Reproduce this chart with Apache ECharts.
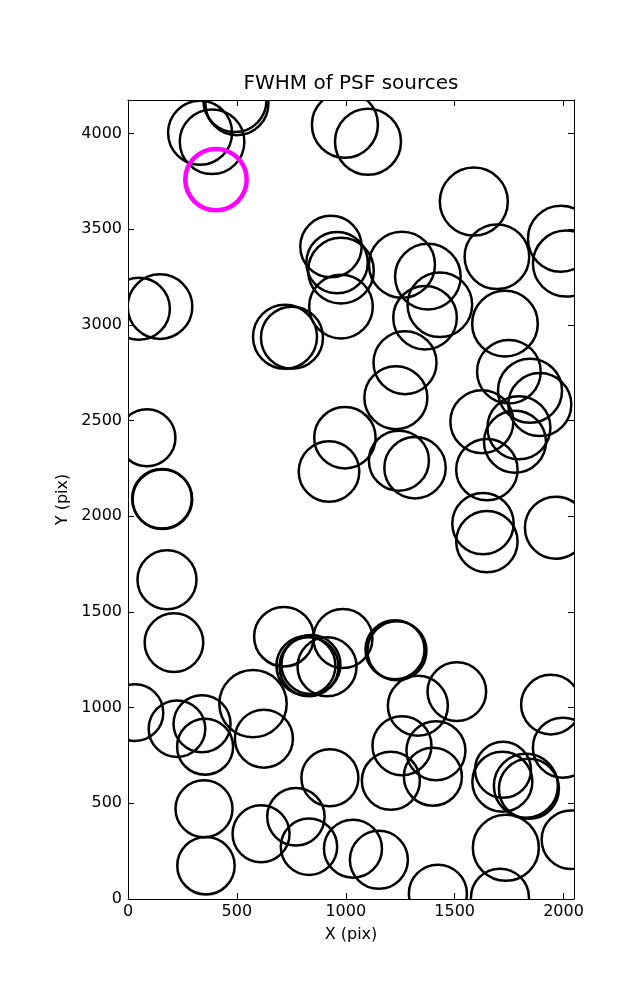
<!DOCTYPE html>
<html>
<head>
<meta charset="utf-8">
<script src="https://cdn.jsdelivr.net/npm/echarts@6/dist/echarts.min.js"></script>
<style>
html,body{margin:0;padding:0;background:#fff;}
#chart{width:637px;height:1000px;}
</style>
</head>
<body>
<div id="chart"></div>
<script>
// Source positions (pix) and FWHM (pix)
var srcX = [331,386,491,500,996,1102,1588,1988,2011,1694,932,960,978,978,1258,1377,1432,1364,1731,50,147,721,753,87,156,158,179,211,1272,1230,996,923,1244,1318,1625,1749,1846,1891,1795,1777,1648,1630,1648,1965,716,987,817,831,840,914,1226,1235,1331,1510,1942,1997,32,225,340,354,574,624,1258,1414,1722,1719,1827,1841,927,1207,1400,349,358,611,771,831,1033,1152,1423,1735,1708,2034];
var srcY = [4005,3958,4173,4157,4047,3958,3645,3451,3321,3357,3410,3326,3284,3096,3315,3253,3106,3038,3007,3085,3096,2939,2934,2411,2092,2089,1669,1340,2803,2620,2411,2234,2291,2254,2495,2756,2657,2584,2463,2390,2244,1962,1868,1941,1371,1361,1219,1214,1225,1214,1303,1298,1010,1084,1016,791,974,890,916,796,1021,838,801,775,675,613,592,576,634,618,639,472,174,341,430,273,263,205,28,268,7,310];
var srcFwhm = [3.20,3.23,3.15,3.15,3.30,3.30,3.40,3.30,3.30,3.23,3.07,3.07,3.28,3.18,3.30,3.28,3.23,3.18,3.28,3.10,3.23,3.20,3.10,2.85,2.98,2.98,2.95,2.93,3.15,3.15,3.07,3.03,3.00,3.07,3.15,3.18,3.20,3.15,3.15,3.10,3.07,3.07,3.07,3.10,2.98,2.95,2.95,2.95,2.95,2.95,2.95,2.95,3.00,2.93,2.98,3.00,2.83,2.83,2.85,2.80,3.37,2.90,2.95,2.95,2.80,3.00,3.20,3.00,2.85,2.90,2.90,2.85,2.87,2.85,2.87,2.82,2.90,2.90,2.90,3.30,2.90,2.93];
// Highlighted source
var hlX = [404];
var hlY = [3760];
var hlFwhm = [3.07];

var xTicks = [0,500,1000,1500,2000];
var yTicks = [0,500,1000,1500,2000,2500,3000,3500,4000];
var xMax = 2048, yMax = 4176;

function build(xs, ys, fs){
  var d=[]; for(var i=0;i<xs.length;i++) d.push([xs[i], ys[i], fs[i]]); return d;
}
var FONT = 'DejaVu Sans';
var chart = echarts.init(document.getElementById('chart'), null, {renderer:'canvas'});

function circleRenderer(color, lw){
  return function(params, api){
    var p = api.coord([api.value(0), api.value(1)]);
    return {type:'circle', shape:{cx:p[0], cy:p[1], r:api.value(2)*10},
      style:{fill:'none', stroke:color, lineWidth:lw}};
  };
}
function labelFmt(ticks){ return function(v){ return ticks.indexOf(v) >= 0 ? String(v) : ''; }; }

var axisCommon = {
  type:'value', z:5,
  axisLine:{show:true, onZero:false, lineStyle:{color:'#000', width:1}},
  axisTick:{show:true, inside:true, length:6, lineStyle:{color:'#000', width:1}},
  splitLine:{show:false}
};

chart.setOption({
  animation:false,
  backgroundColor:'#fff',
  title:{text:'FWHM of PSF sources', left:351, top:74, padding:0, textAlign:'center',
    textStyle:{fontFamily:FONT, fontSize:20, fontWeight:'normal', color:'#000'}},
  grid:{left:128, right:63, top:100, bottom:101, containLabel:false},
  xAxis:[
    Object.assign({}, axisCommon, {position:'bottom', min:0, max:xMax, interval:500,
      name:'X (pix)', nameLocation:'middle', nameGap:28,
      nameTextStyle:{fontFamily:FONT, fontSize:16, color:'#000'},
      axisLabel:{show:true, margin:5, fontFamily:FONT, fontSize:16, color:'#000', formatter:labelFmt(xTicks)}}),
    Object.assign({}, axisCommon, {position:'top', min:0, max:xMax, interval:500, axisLabel:{show:false}})
  ],
  yAxis:[
    Object.assign({}, axisCommon, {position:'left', min:0, max:yMax, interval:500,
      name:'Y (pix)', nameLocation:'middle', nameGap:56,
      nameTextStyle:{fontFamily:FONT, fontSize:16, color:'#000'},
      axisLabel:{show:true, margin:6, fontFamily:FONT, fontSize:16, color:'#000', formatter:labelFmt(yTicks)}}),
    Object.assign({}, axisCommon, {position:'right', min:0, max:yMax, interval:500, axisLabel:{show:false}})
  ],
  series:[
    {type:'custom', xAxisIndex:0, yAxisIndex:0, clip:true, z:2,
     dimensions:['x','y','fwhm'], encode:{x:0, y:1},
     renderItem:circleRenderer('#000', 2.5), data:build(srcX, srcY, srcFwhm)},
    {type:'custom', xAxisIndex:0, yAxisIndex:0, clip:true, z:3,
     dimensions:['x','y','fwhm'], encode:{x:0, y:1},
     renderItem:circleRenderer('#ff00ff', 4.5), data:build(hlX, hlY, hlFwhm)}
  ]
});
</script>
</body>
</html>
